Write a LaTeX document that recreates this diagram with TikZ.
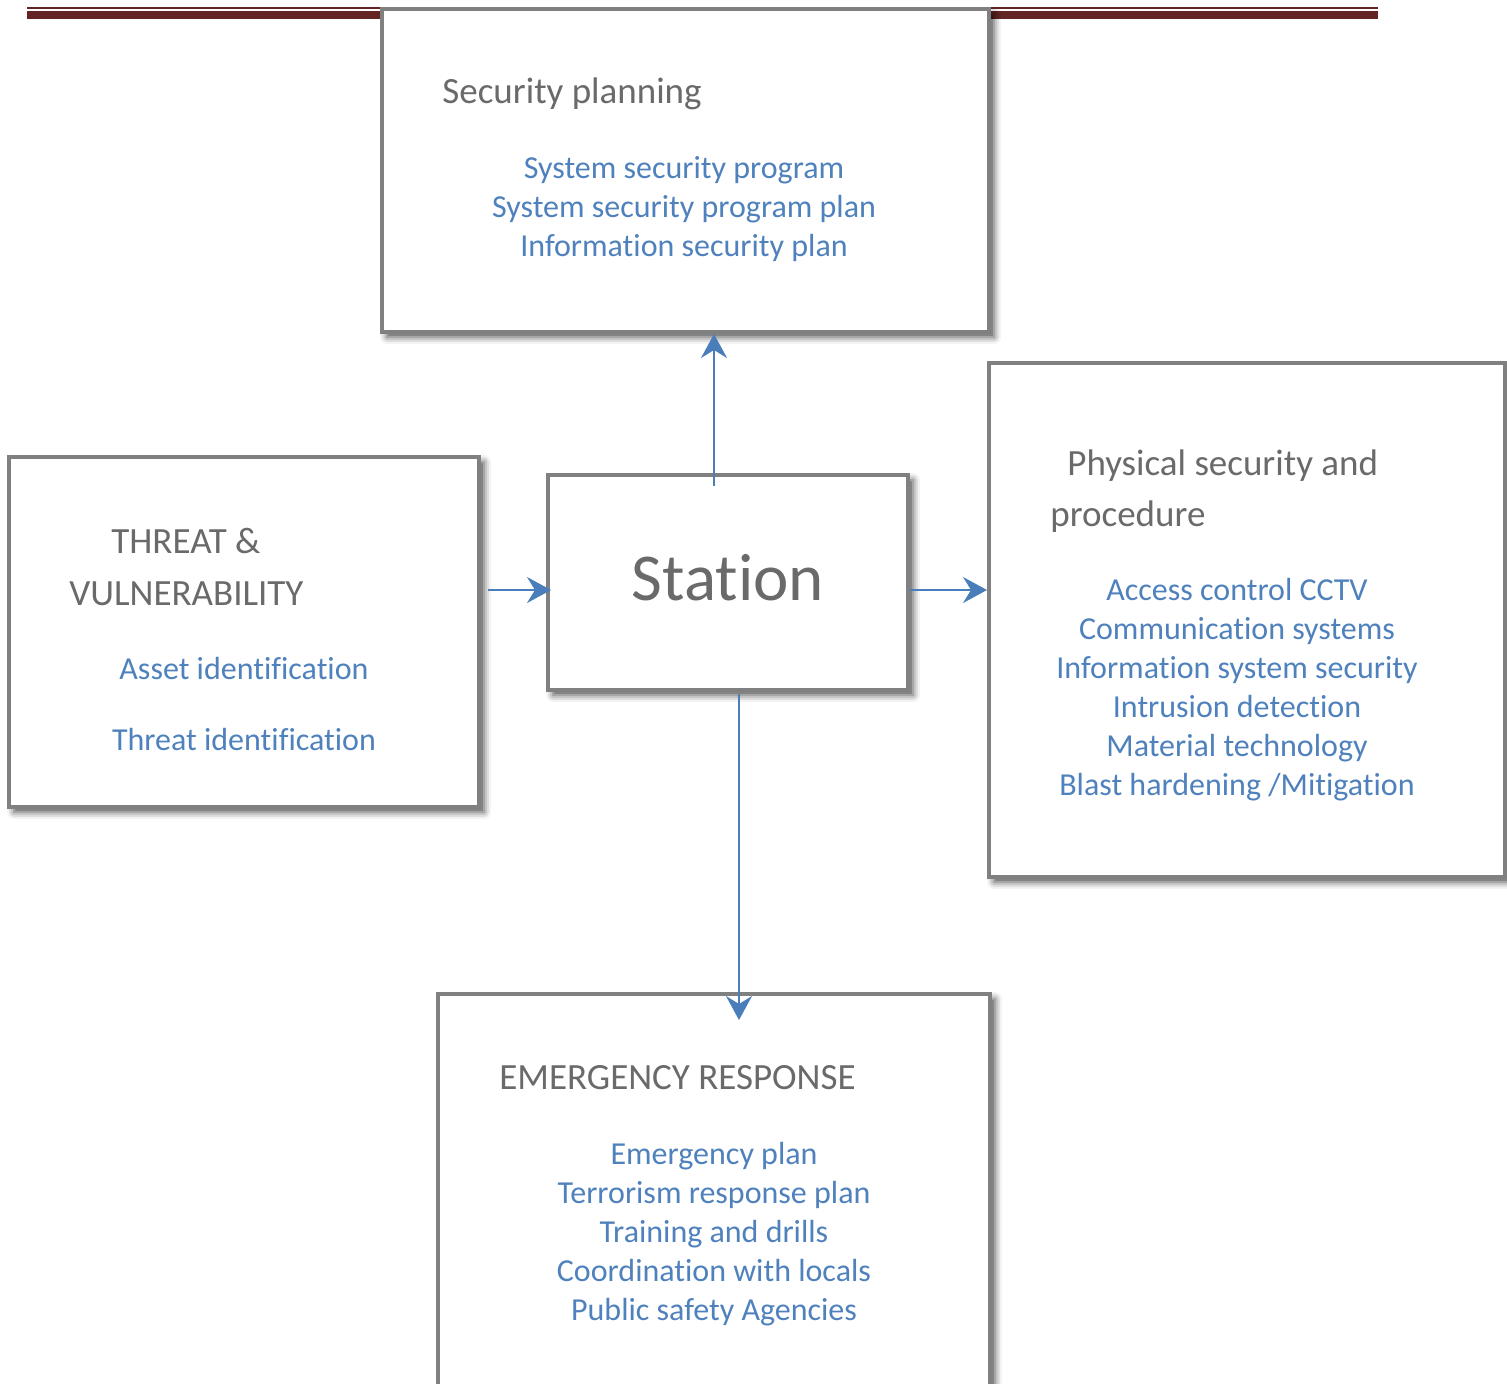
\documentclass[tikz,border=0pt]{standalone}
\usepackage{fontspec}
\setmainfont{Carlito}[Ligatures=NoCommon]
\usetikzlibrary{arrows.meta, shadows.blur, calc}

\definecolor{boxgray}{HTML}{808080}
\definecolor{txtgray}{HTML}{6A6A6A}
\definecolor{itemblue}{HTML}{4F81BD}
\definecolor{linkblue}{HTML}{4A7EBB}
\definecolor{rulered}{HTML}{632523}

\begin{document}
\begin{tikzpicture}[
    x=0.5pt, y=-0.5pt,          % one unit = one pixel of the layout, y downwards
    box/.style={draw=boxgray, line width=2pt, fill=white, rectangle, inner sep=0pt,
        blur shadow={shadow xshift=2.5pt, shadow yshift=-2.5pt,
                     shadow blur radius=3.5pt, shadow opacity=70}},
    head/.style={anchor=base west, inner sep=0pt, text=txtgray,
        font=\fontsize{18.5}{22}\selectfont},
    items/.style={anchor=base, inner sep=0pt, align=center, text=itemblue,
        font=\fontsize{16}{19.5}\selectfont},
    link/.style={draw=linkblue, line width=1pt,
        -{Stealth[length=12pt, width=13pt, inset=4pt]}},
]
\useasboundingbox (0,0) rectangle (1507,1383);

% -------------------------------------------------
% Page rule at the top
% -------------------------------------------------
\draw[rulered, line width=1pt] (27,8) -- (1378,8);
\draw[rulered, line width=4pt] (27,15) -- (1378,15);

% -------------------------------------------------
% Boxes
% -------------------------------------------------
\node[box, minimum width=303.5pt, minimum height=161.5pt] (planning)  at (685.5,170.5) {};
\node[box, minimum width=235pt,   minimum height=175pt]   (threat)    at (244,632) {};
\node[box, minimum width=180pt,   minimum height=107.5pt] (station)   at (728,582.5) {};
\node[box, minimum width=258pt,   minimum height=257pt]   (physical)  at (1247,620) {};
\node[box, minimum width=276pt,   minimum height=213pt]   (emergency) at (714,1207) {};

% -------------------------------------------------
% Texts (list nodes sit on the baseline of their last line)
% -------------------------------------------------
\node[head] (planhead) at (442,103) {Security planning};
\node[items] (planlist) at (684,256)
    {System security program\\System security program plan\\Information security plan};

\node[head] (threathead) at (111,553) {THREAT \&};
\node[head] (vulnhead) at (69,605) {VULNERABILITY};
\node[items] (assetid) at (244,679) {Asset identification};
\node[items] (threatid) at (244,750) {Threat identification};

\node[anchor=base, inner sep=0pt, text=txtgray, font=\fontsize{33.5}{40}\selectfont]
    (stationlab) at (728,600) {Station};

\node[head] (physhead) at (1067,475) {Physical security and};
\node[head] (prochead) at (1050,526) {procedure};
\node[items] (physlist) at (1237,795)
    {Access control CCTV\\Communication systems\\Information system security\\
     Intrusion detection\\Material technology\\Blast hardening /Mitigation};

\node[head] (emerghead) at (499,1089) {EMERGENCY RESPONSE};
\node[items] (emerglist) at (714,1320)
    {Emergency plan\\Terrorism response plan\\Training and drills\\
     Coordination with locals\\Public safety Agencies};

% -------------------------------------------------
% Links
% -------------------------------------------------
\draw[link] ([xshift=-7pt,yshift=-6.5pt]station.north) -- ([xshift=-7pt]station.north |- planning.south);
\draw[link] ([xshift=3.5pt,yshift=21pt]threat.east) -- ([xshift=2.5pt,yshift=21pt]threat.east -| station.west);
\draw[link] ([yshift=-3.75pt]station.east) -- ([yshift=-3.75pt]station.east -| physical.west);
\draw[link] ([xshift=5.5pt,yshift=-1pt]station.south) -- ([xshift=5.5pt,yshift=-14pt]station.south |- emergency.north);

\end{tikzpicture}
\end{document}
